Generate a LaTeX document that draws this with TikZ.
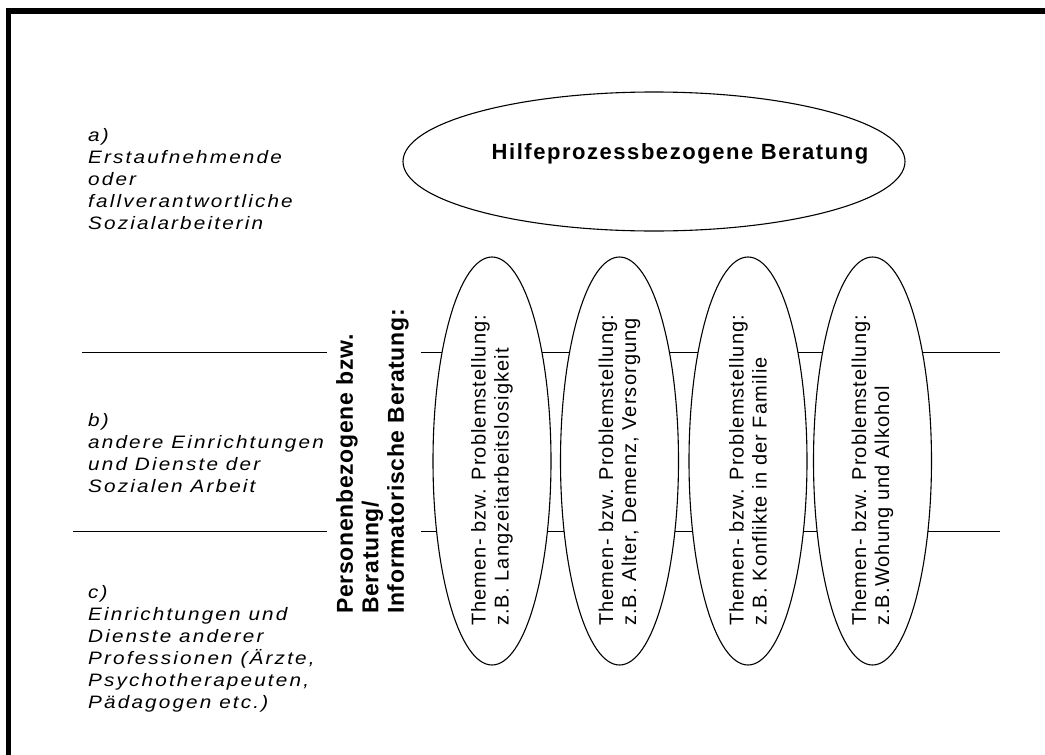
\documentclass[tikz,border=0pt]{standalone}
\usepackage{fontspec}
\setmainfont{Liberation Sans}
\newfontfamily\leftfont[LetterSpace=12,FakeStretch=1.15]{Liberation Sans}
\newfontfamily\ellfont[LetterSpace=5.5]{Liberation Sans}
\newfontfamily\hptitlefont[LetterSpace=7]{Liberation Sans}
\newfontfamily\vertfont[LetterSpace=3]{Liberation Sans}
\usetikzlibrary{shapes.geometric}
\tikzset{
  frameline/.style={line width=6pt},
  sepline/.style={line width=0.9pt},
  bigell/.style={draw, ellipse, line width=1.1pt, fill=white, inner sep=0pt, outer sep=0pt,
    minimum width=502pt, minimum height=139pt},
  topicell/.style={draw, ellipse, line width=1.1pt, fill=white, inner sep=0pt, outer sep=0pt,
    minimum width=118pt, minimum height=408pt},
  topictext/.style={rotate=90, anchor=west, align=left, inner sep=0pt,
    font=\ellfont\fontsize{20}{23}\selectfont},
  lefttext/.style={anchor=base west, align=left, inner sep=0pt,
    font=\leftfont\itshape\fontsize{18}{22}\selectfont},
}
\begin{document}
\begin{tikzpicture}[x=1pt, y=-1pt]
\useasboundingbox (0,0) rectangle (1045,755);
% frame
\coordinate (ftl) at (8.5,11);
\coordinate (ftr) at (1045,11);
\coordinate (fbl) at (8.5,755);
\draw[frameline] ([xshift=-2.5pt]ftl) -- (ftr);
\draw[line width=5pt] (ftl) -- (fbl);
% separator lines
\coordinate (l1a) at (82,352);  \coordinate (l1b) at (327,352);
\coordinate (l1c) at (421,352); \coordinate (l1d) at (1000,352);
\coordinate (l2a) at (73,531);  \coordinate (l2b) at (327,531);
\coordinate (l2c) at (421,531); \coordinate (l2d) at (1000,531);
\draw[sepline] (l1a) -- (l1b) (l1c) -- (l1d);
\draw[sepline] (l2a) -- (l2b) (l2c) -- (l2d);
% big ellipse
\node[bigell] (hilfe) at (654,161.5) {};
\node[anchor=base, inner sep=0pt, font=\hptitlefont\bfseries\fontsize{22}{26}\selectfont]
  (hilfetext) at (680,159) {Hilfeprozessbezogene Beratung};
% left labels (anchored at the baseline of their last line)
\node[lefttext] (la) at (88,229) {a)\\Erstaufnehmende\\oder\\fallverantwortliche\\Sozialarbeiterin};
\node[lefttext] (lb) at (88,492) {b)\\andere Einrichtungen\\und Dienste der\\Sozialen Arbeit};
\node[lefttext] (lc) at (88,708) {c)\\Einrichtungen und\\Dienste anderer\\Professionen (Ärzte,\\Psychotherapeuten,\\Pädagogen etc.)};
% vertical bold label
\node[rotate=90, anchor=north west, align=left, inner sep=0pt,
  font=\vertfont\bfseries\fontsize{23}{25.5}\selectfont] (pers) at (336,614)
  {Personenbezogene bzw.\\Beratung/\\Informatorische Beratung:};
% topic ellipses
\node[topicell] (e1) at (492,461) {};
\node[topicell] (e2) at (619.5,461) {};
\node[topicell] (e3) at (748,461) {};
\node[topicell] (e4) at (872.5,461) {};
\node[topictext] (t1) at (492,626) {Themen- bzw. Problemstellung:\\z.B. Langzeitarbeitslosigkeit};
\node[topictext] (t2) at (619.5,626) {Themen- bzw. Problemstellung:\\z.B. Alter, Demenz, Versorgung};
\node[topictext] (t3) at (748,626) {Themen- bzw. Problemstellung:\\z.B. Konflikte in der Familie};
\node[topictext] (t4) at (872.5,626) {Themen- bzw. Problemstellung:\\z.B.Wohung und Alkohol};
\end{tikzpicture}
\end{document}
